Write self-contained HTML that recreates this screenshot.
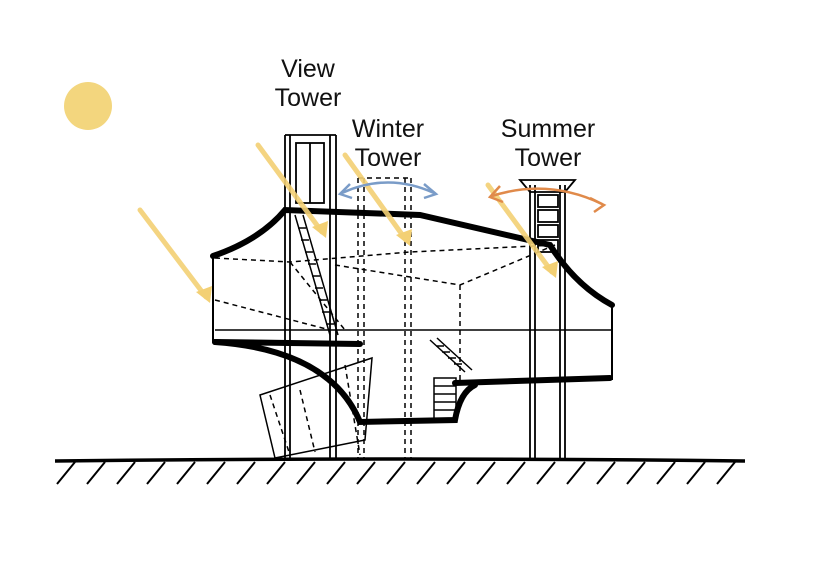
<!DOCTYPE html>
<html><head><meta charset="utf-8"><style>
html,body{margin:0;padding:0;background:#fff;}
svg{display:block;}
text{font-family:"Liberation Sans",sans-serif;font-size:25px;fill:#111;text-anchor:middle;}
</style></head><body>
<svg width="818" height="561" viewBox="0 0 818 561" xmlns="http://www.w3.org/2000/svg">
<circle cx="88" cy="106" r="24" fill="#f3d67e"/>
<text x="308" y="77">View</text>
<text x="308" y="106">Tower</text>
<text x="388" y="137">Winter</text>
<text x="388" y="166">Tower</text>
<text x="548" y="137">Summer</text>
<text x="548" y="166">Tower</text>

<!-- ground -->
<path d="M55 461 Q400 457 745 461" stroke="#000" stroke-width="3.5" fill="none"/>
<g stroke="#000" stroke-width="2">
<path d="M75 462 l-18 22 M105 462 l-18 22 M135 462 l-18 22 M165 462 l-18 22 M195 462 l-18 22 M225 462 l-18 22 M255 462 l-18 22 M285 462 l-18 22 M315 462 l-18 22 M345 462 l-18 22 M375 462 l-18 22 M405 462 l-18 22 M435 462 l-18 22 M465 462 l-18 22 M495 462 l-18 22 M525 462 l-18 22 M555 462 l-18 22 M585 462 l-18 22 M615 462 l-18 22 M645 462 l-18 22 M675 462 l-18 22 M705 462 l-18 22 M735 462 l-18 22"/>
</g>

<!-- towers -->
<g stroke="#000" stroke-width="1.8" fill="none">
<path d="M285 135 V460 M290 135 V460 M330 135 V460 M336 135 V460 M285 135 H336"/>
<rect x="296" y="143" width="28" height="60"/>
<path d="M310 143 V203"/>
<path d="M530 185 V460 M535 185 V460 M560 185 V460 M565 185 V460"/>
<path d="M520 180 L575 180 L565 192 L530 192 Z"/>
<rect x="538" y="195" width="20" height="12"/><rect x="538" y="210" width="20" height="12"/><rect x="538" y="225" width="20" height="12"/><rect x="538" y="240" width="20" height="12"/>
</g>
<g stroke="#000" stroke-width="1.5" fill="none" stroke-dasharray="5 4">
<path d="M358 178 V460 M364 178 V460 M405 178 V460 M411 178 V460 M358 178 H411"/>
<path d="M215 258 L290 262 L410 252 L555 245 M215 300 L330 330 M335 265 L460 285 L555 245 M460 285 L460 380 M290 262 L345 330"/>
<path d="M270 395 L290 455 M300 390 L315 452 M345 365 L360 455"/>
</g>
<!-- ladders -->
<g stroke="#000" stroke-width="1.5" fill="none">
<path d="M295 215 L330 335 M303 215 L338 335"/>
<path d="M298 228h8M301 240h8M305 252h8M308 264h8M312 276h8M315 288h8M319 300h8M322 312h8M326 324h8"/>
<path d="M430 340 L465 372 M437 338 L472 370 M436 346h8M442 352h8M448 358h8M454 364h8"/>
<rect x="434" y="378" width="22" height="42"/>
<path d="M434 386h22M434 394h22M434 402h22M434 410h22"/>
<path d="M260 395 L372 358 L365 440 L275 458 Z"/>
<path d="M215 330 H612"/>
</g>
<!-- building thick -->
<g stroke="#000" stroke-width="6" fill="none" stroke-linecap="round">
<path d="M213 256 Q260 240 285 210 L420 215 L550 245 Q575 285 612 305"/>
<path d="M215 342 L360 344"/>
<path d="M455 383 L610 378"/>
<path d="M215 342 Q330 350 360 422 L455 420 Q460 392 475 385"/>
</g>
<g stroke="#000" stroke-width="2" fill="none">
<path d="M213 256 V342 M612 305 V380"/>
</g>

<!-- sun rays -->
<g stroke="#f3d074" stroke-width="5" fill="none" stroke-linecap="round" opacity="0.9">
<path d="M140 210 L206 297"/><path d="M258 145 L322 232"/><path d="M345 155 L406 240"/><path d="M488 185 L552 272"/>
</g>
<g fill="#f3d074">
<polygon points="210,303 196,292 212,286"/><polygon points="326,238 312,227 328,221"/><polygon points="410,246 396,235 412,229"/><polygon points="556,278 542,267 558,261"/>
</g>
<!-- winter/summer arrows -->
<path d="M342 193 Q388 172 434 193" stroke="#7a9cc8" stroke-width="2.5" fill="none"/>
<path d="M350 184 L340 194 L352 198 M424 184 L436 194 L424 198" stroke="#7a9cc8" stroke-width="2.5" fill="none"/>
<path d="M492 196 Q548 178 602 204" stroke="#e08a4a" stroke-width="2.5" fill="none"/>
<path d="M500 186 L490 197 L503 202 M590 198 L604 205 L594 212" stroke="#e08a4a" stroke-width="2.5" fill="none"/>
</svg>
</body></html>
